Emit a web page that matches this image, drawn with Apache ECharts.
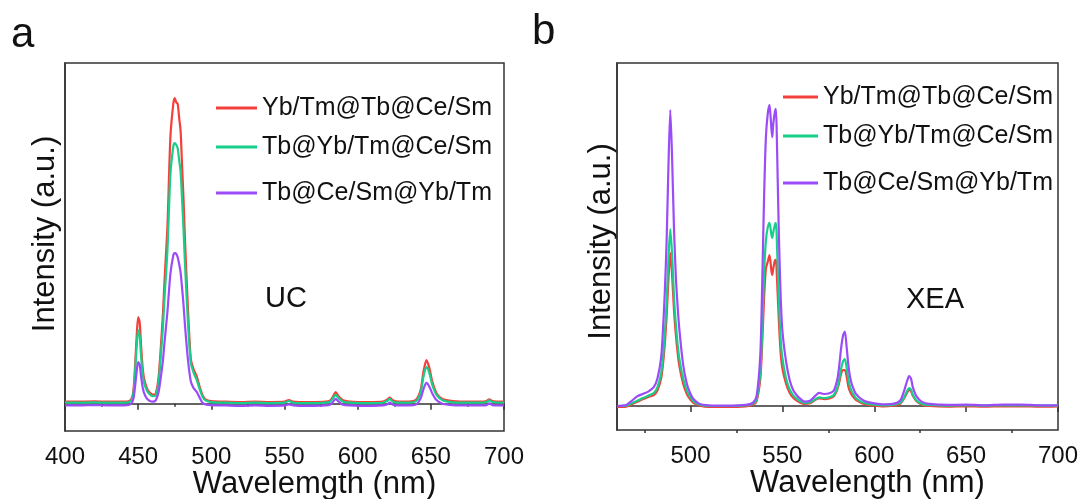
<!DOCTYPE html>
<html>
<head>
<meta charset="utf-8">
<script src="https://cdn.jsdelivr.net/npm/echarts@6/dist/echarts.min.js"></script>
<style>
html,body{margin:0;padding:0;background:#fff;}
#c{width:1078px;height:499px;}
</style>
</head>
<body>
<div id="c"></div>
<script>
// ---------- data ----------
const SERIES_NAMES = ['Yb/Tm@Tb@Ce/Sm', 'Tb@Yb/Tm@Ce/Sm', 'Tb@Ce/Sm@Yb/Tm'];

// Panel a (UC)
const L_WL = [400,410,420,430,440,444,446,447,448,449,
  450,451,452,453,454,456,458,460,462,464,
  466,467,468,470,472,474,475,476,477,478,
  479,480,481,482,484,486,488,490,492,494,
  496,500,510,520,530,540,550,553,556,560,
  570,578,581,583,585,587,590,595,600,610,
  617,620,622,624,628,635,640,643,645,647,
  649,651,654,658,665,675,685,688,690,692,
  700];
const L_RED = [0.6,0.6,0.7,0.6,0.6,0.8,2.0,5,12,20,
  25.4,24,17,11,7.5,4.5,3.2,2.7,3.0,8,
  20,27,36,52,78,88,89.7,88.5,88,84,
  80,70,60,48,28,13,10,8,5,2.5,
  1.3,0.8,0.6,0.5,0.6,0.5,0.6,1.1,0.6,0.5,
  0.5,0.6,0.9,2,3.4,2.2,1.0,0.6,0.5,0.5,
  0.6,1.2,1.8,1.0,0.6,0.6,1.2,4,9.5,12.8,
  10.5,6.5,3,1.4,0.8,0.6,0.6,0.8,1.3,0.8,
  0.6];
const L_GREEN = [0.3,0.3,0.4,0.3,0.3,0.5,1.6,4,10,17,
  21.6,20,14,9,6.2,3.8,2.7,2.2,2.4,6.5,
  17,23,31,45,67,75.5,76.5,76,75,71.5,
  68,60,51,41,24,12,9,7,4.3,2.0,
  1.0,0.5,0.3,0.2,0.3,0.2,0.3,0.8,0.3,0.2,
  0.2,0.3,0.6,1.5,2.6,1.6,0.6,0.3,0.2,0.2,
  0.3,0.8,1.4,0.6,0.3,0.3,0.8,3.2,8,10.8,
  9,5.5,2.5,1,0.4,0.3,0.3,0.5,1.0,0.5,
  0.3];
const L_PURPLE = [-0.5,-0.5,-0.4,-0.5,-0.5,-0.3,0.5,2,5.5,9.5,
  12.2,11.5,8,5,3.2,1.5,0.8,0.6,1,3.5,
  9.5,13,18,27,38,43.5,44.2,44,43,41,
  38.5,34,29,23,13,6.5,4.5,3.5,1.8,0.3,
  -0.2,-0.4,-0.5,-0.6,-0.5,-0.6,-0.5,-0.2,-0.5,-0.6,
  -0.6,-0.5,-0.3,0.5,1.4,0.6,-0.3,-0.5,-0.6,-0.6,
  -0.5,-0.2,0.3,-0.3,-0.5,-0.5,-0.2,1.5,4.3,6.1,
  5,3,1,0,-0.4,-0.5,-0.5,-0.4,0.1,-0.4,
  -0.5];

// Panel b (XEA)
const R_WL = [460,465,468,471,474,477,480,482,484,485,
  486,487,488,489,490,491,492,493,494,496,
  498,500,502,505,510,520,530,534,536,538,
  539,540,541,542,543,544,544.5,545,546,546.5,
  547,548,549,550,552,554,556,558,560,562,
  565,568,570,573,576,578,580,581,582,583,
  584,585,586,587,588,590,593,596,600,605,
  610,614,616,618,619,620,621,623,626,630,
  640,650,660,670,680,690,700];
const R_RED = [-0.3,-0.2,0.5,1.2,2.0,2.6,3.2,4.5,8,12,
  18,26,37,44.6,38,28,21,15.5,11.5,6.5,
  3.5,1.8,0.8,0.1,-0.3,-0.3,-0.1,0.4,1.5,8,
  18,31,40,42,44,39.5,38.2,40,42.5,42.6,
  38,26,16,11,6.5,3.8,2.3,1.5,0.9,0.6,
  0.8,1.8,2.2,2,2.3,2.8,5,7,9.5,10.5,
  10.5,8.5,5.5,4,3,1.8,0.9,0.4,0.1,-0.1,
  0.1,0.6,2,4,4.7,4.3,3,1.4,0.4,0,
  -0.2,-0.1,-0.2,-0.1,-0.1,-0.2,-0.1];
const R_GREEN = [0,0.1,0.8,1.5,2.3,3.0,3.8,5.5,9.5,14,
  21,30,43,51.6,44,32,24,18,13.5,8,
  4.5,2.5,1.2,0.4,0,0,0.2,0.7,2,10,
  22,38,48,52,53.4,50,49,50.5,53,53.4,
  48,32,20,14,8,4.8,3,2,1.3,0.9,
  1.0,2,2.5,2.3,2.6,3.2,5.5,8,11,13,
  13.7,11,7.5,5.3,4,2.3,1.2,0.7,0.4,0.2,
  0.3,0.9,2.3,4.5,5.2,4.8,3.3,1.6,0.6,0.3,
  0.1,0.2,0.1,0.2,0.2,0.1,0.1];
const R_PURPLE = [0,0.3,1.5,2.8,3.5,4.2,5.5,8,14,22,
  33,48,70,86.3,72,52,38,29,22,12,
  6.5,3.5,1.8,0.6,0.2,0.1,0.3,1,3,15,
  35,60,78,85,87.8,81,78.4,82,86,86.6,
  78,52,33,22,13,7.5,4.5,3,2,1.3,
  1.5,3,3.8,3.5,3.8,4.5,8,12,17,20.5,
  21.7,17,11.5,8,6,3.5,2,1.2,0.8,0.5,
  0.6,1.5,4,7.5,8.7,8,5.5,2.8,1.2,0.6,
  0.3,0.4,0.2,0.4,0.4,0.2,0.2];

const L_X_TICK_INTERVAL = 50;
const R_MAJOR_TICKS = [500,550,600,650,700];
const R_MINOR_TICKS = [475,525,575,625,675];

// ---------- styling ----------
const COLORS = ['#f4403b', '#17cf8a', '#9b4cf8'];
const FONT = "'Liberation Sans', Arial, sans-serif";
const AXIS_COLOR = '#333';

function pairs(xs, ys){ return xs.map((x,i)=>[x, ys[i]]); }

const chart = echarts.init(document.getElementById('c'), null, {renderer:'canvas'});

const leftSeriesData = [L_RED, L_GREEN, L_PURPLE];
const rightSeriesData = [R_RED, R_GREEN, R_PURPLE];

const series = [];
leftSeriesData.forEach((d,i)=>{
  series.push({
    name: SERIES_NAMES[i], type:'line', xAxisIndex:0, yAxisIndex:0,
    data: pairs(L_WL, d), showSymbol:false, smooth:0.25,
    lineStyle:{color:COLORS[i], width:2.2}, itemStyle:{color:COLORS[i]},
    silent:true, animation:false
  });
});
rightSeriesData.forEach((d,i)=>{
  series.push({
    name: SERIES_NAMES[i], type:'line', xAxisIndex:1, yAxisIndex:1,
    data: pairs(R_WL, d), showSymbol:false, smooth:0.25,
    lineStyle:{color:COLORS[i], width:2.2}, itemStyle:{color:COLORS[i]},
    silent:true, animation:false
  });
});

function legendRow(name, left, top, width){
  return {
    data:[name], left:left, top:top, orient:'horizontal',
    icon:'rect', itemWidth:width, itemHeight:3, itemGap:0,
    textStyle:{fontSize:25, fontFamily:FONT, color:'#111', lineHeight:26},
    selectedMode:false, padding:0
  };
}

const axisLineStyle = {lineStyle:{color:AXIS_COLOR, width:1.5}};
const labelStyle = {fontSize:24, fontFamily:FONT, color:'#111', margin:14};
function nameStyle(pad){ return {fontSize:31, fontFamily:FONT, color:'#111', padding:pad}; }

const option = {
  backgroundColor:'#fff',
  animation:false,
  grid:[
    {left:65, right:574, top:63, bottom:68, show:true, borderColor:AXIS_COLOR, borderWidth:1.5, outerBoundsMode:'none', containLabel:false},
    {left:617, right:20, top:63, bottom:69, show:true, borderColor:AXIS_COLOR, borderWidth:1.5, outerBoundsMode:'none', containLabel:false}
  ],
  legend:[
    legendRow(SERIES_NAMES[0], 216, 95, 41),
    legendRow(SERIES_NAMES[1], 216, 134, 41),
    legendRow(SERIES_NAMES[2], 216, 180, 41),
    legendRow(SERIES_NAMES[0], 783, 84, 35),
    legendRow(SERIES_NAMES[1], 783, 123, 35),
    legendRow(SERIES_NAMES[2], 783, 170, 35)
  ],
  xAxis:[
    {type:'value', gridIndex:0, position:'bottom', min:400, max:700, interval:L_X_TICK_INTERVAL,
     name:'Wavelemgth (nm)', nameLocation:'middle', nameGap:38, nameMoveOverlap:false, nameTextStyle:nameStyle([0,0,0,60]),
     axisLine:axisLineStyle, axisTick:{show:true, length:6, lineStyle:{color:AXIS_COLOR, width:1.5}},
     minorTick:{show:true, splitNumber:2, length:3, lineStyle:{color:AXIS_COLOR, width:1.5}},
     axisLabel:labelStyle, splitLine:{show:false}},
    {type:'value', gridIndex:1, position:'bottom', min:460, max:700,
     name:'Wavelength (nm)', nameLocation:'middle', nameGap:38, nameMoveOverlap:false, nameTextStyle:nameStyle([0,0,0,60]),
     axisLine:axisLineStyle,
     axisTick:{show:true, length:6, customValues:R_MAJOR_TICKS, lineStyle:{color:AXIS_COLOR, width:1.5}},
     axisLabel:Object.assign({customValues:R_MAJOR_TICKS}, labelStyle), splitLine:{show:false}},
    {type:'value', gridIndex:1, position:'bottom', offset:0, min:460, max:700,
     axisLine:{show:false},
     axisTick:{show:true, length:3, customValues:R_MINOR_TICKS, lineStyle:{color:AXIS_COLOR, width:1.5}},
     axisLabel:{show:false}, splitLine:{show:false}}
  ],
  yAxis:[
    {type:'value', gridIndex:0, min:-8, max:100,
     name:'Intensity (a.u.)', nameLocation:'middle', nameGap:4, nameRotate:90, nameTextStyle:nameStyle([0,0,0,26]),
     axisLine:axisLineStyle, axisTick:{show:false}, axisLabel:{show:false}, splitLine:{show:false}},
    {type:'value', gridIndex:1, min:-7, max:100,
     name:'Intensity (a.u.)', nameLocation:'middle', nameGap:0, nameRotate:90, nameTextStyle:nameStyle([0,0,0,10]),
     axisLine:axisLineStyle, axisTick:{show:false}, axisLabel:{show:false}, splitLine:{show:false}}
  ],
  graphic:[
    {type:'text', left:11, top:14, style:{text:'a', fontSize:42, fontFamily:FONT, fill:'#111'}},
    {type:'text', left:532, top:11, style:{text:'b', fontSize:42, fontFamily:FONT, fill:'#111'}},
    {type:'text', left:265, top:284, style:{text:'UC', fontSize:29, fontFamily:FONT, fill:'#111'}},
    {type:'text', left:906, top:285, style:{text:'XEA', fontSize:29, fontFamily:FONT, fill:'#111'}}
  ],
  series: series
};
chart.setOption(option);
</script>
</body>
</html>
